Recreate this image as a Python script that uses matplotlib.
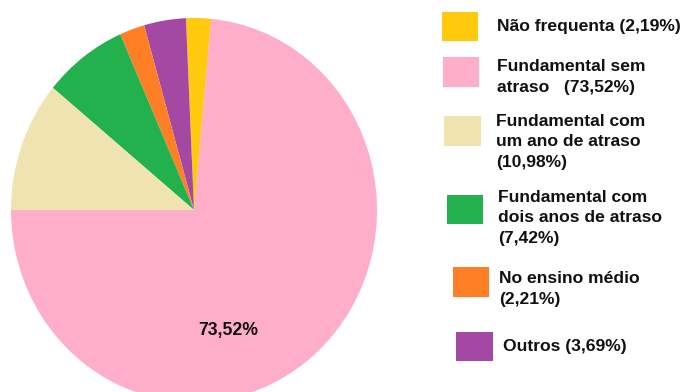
import matplotlib
matplotlib.use("Agg")
import matplotlib.pyplot as plt
from matplotlib.patches import Rectangle

plt.rcParams['font.family'] = ['Liberation Sans', 'DejaVu Sans']

# categories and shares (%), in legend order
labels = ["Não frequenta (2,19%)",
          "Fundamental sem\natraso   (73,52%)",
          "Fundamental com\num ano de atraso\n(10,98%)",
          "Fundamental com\ndois anos de atraso\n(7,42%)",
          "No ensino médio\n(2,21%)",
          "Outros (3,69%)"]
values = [2.19, 73.52, 10.98, 7.42, 2.21, 3.69]
colors = ["#FFC90E", "#FFAEC9", "#EFE4B0", "#22B14C", "#FF7F27", "#A349A4"]

# order of the wedges counterclockwise from the left horizontal
pie_order = [1, 0, 5, 4, 3, 2]

W, H = 685, 392
fig = plt.figure(figsize=(W / 100, H / 100), dpi=100)

# pie axes spans the whole figure; limits put the centre at (194, 210) px
cx, cy, rx, ry = 194, 210, 183, 192
ax = fig.add_axes([0, 0, 1, 1])
ax.pie([values[i] for i in pie_order],
       colors=[colors[i] for i in pie_order],
       startangle=180, counterclock=True,
       wedgeprops=dict(linewidth=0))
ax.set_aspect('auto')
ax.set_xlim(-cx / rx, (W - cx) / rx)
ax.set_ylim(-(H - cy) / ry, cy / ry)
ax.axis('off')
ax.text(0.186, -0.625, "73,52%", ha='center', va='center',
        fontsize=12.7, fontweight='bold', color='#111111')


def fx(px):
    return px / W


def fy(py):
    return 1 - py / H


# legend boxes (left, top, right, bottom in px) and text anchors
boxes = [(442, 12, 478, 41), (443, 57, 479, 87), (444, 116, 481, 146),
         (447, 195, 483, 224), (453, 267, 489, 297), (456, 332, 493, 361)]
text_pos = [(497, 27), (497, 77), (496, 142), (498, 218), (499, 289), (503, 347)]

for lab, col, (l, t, r, b), (tx, ty) in zip(labels, colors, boxes, text_pos):
    fig.patches.append(Rectangle((fx(l), fy(b)), fx(r) - fx(l), fy(t) - fy(b),
                                 transform=fig.transFigure, facecolor=col,
                                 edgecolor='none'))
    fig.text(fx(tx), fy(ty), lab, ha='left', va='center', fontsize=12.6,
             fontweight='bold', color='#111111', linespacing=1.45)

fig.savefig("out.png", dpi=100)
